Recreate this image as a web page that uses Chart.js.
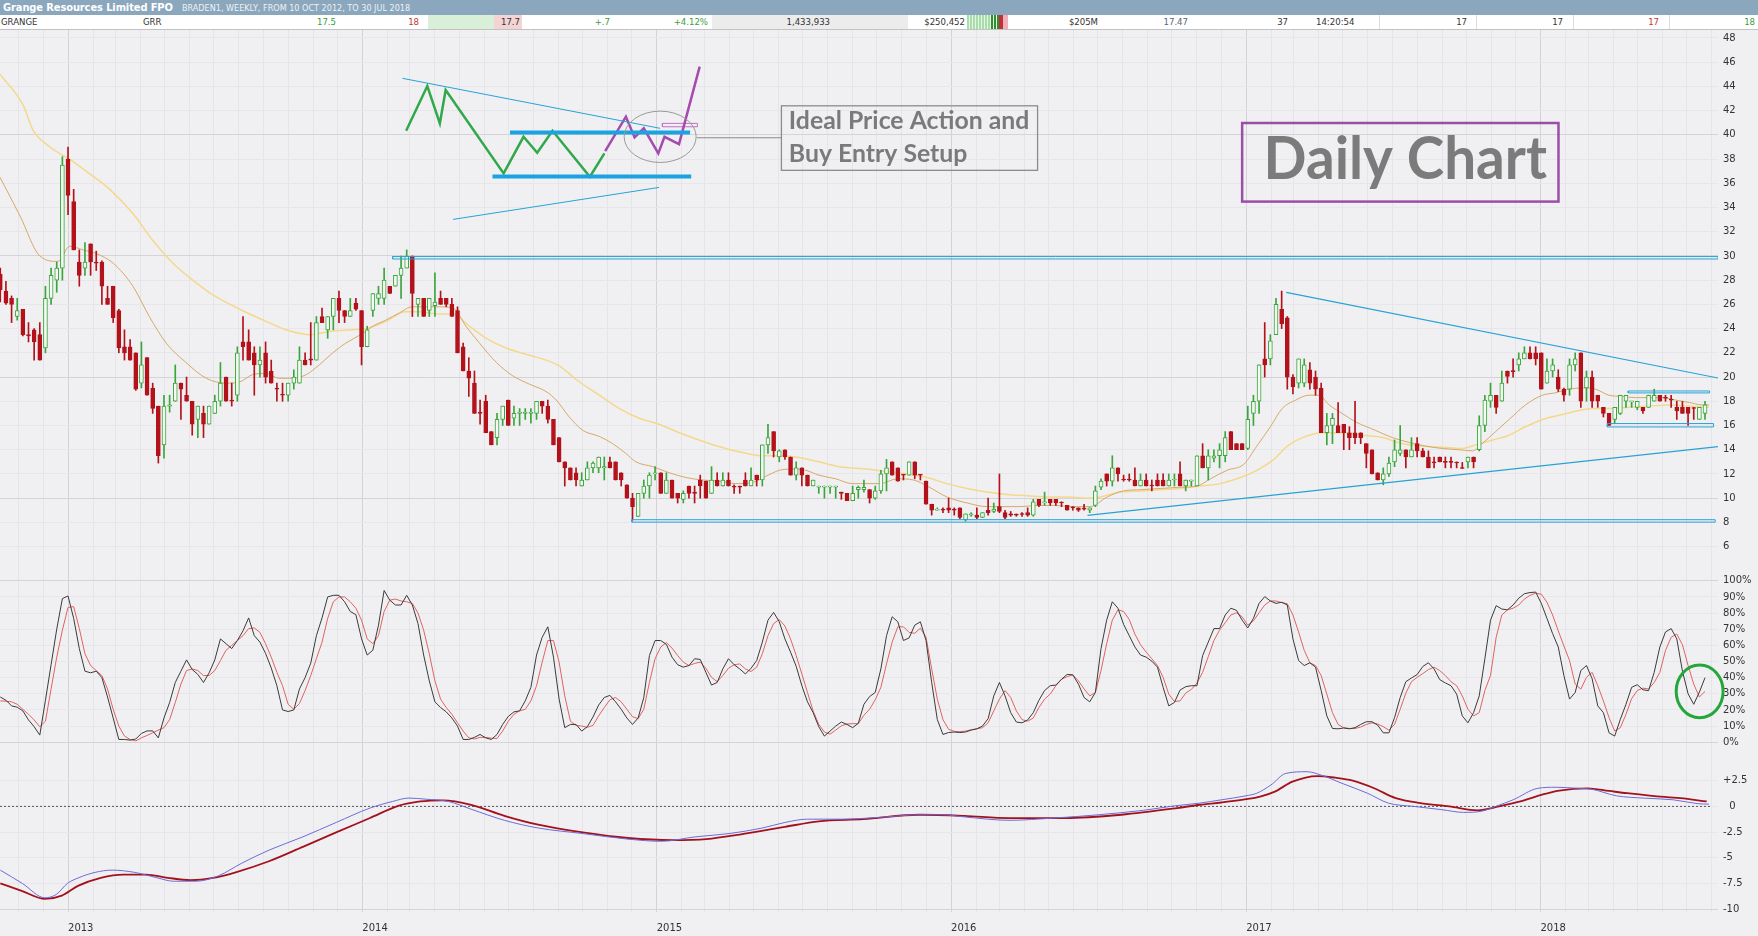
<!DOCTYPE html>
<html lang="en">
<head>
<meta charset="UTF-8" />
<title>Grange Resources Limited FPO - Weekly</title>
<style>
  html, body {
    margin: 0;
    padding: 0;
    width: 1758px;
    height: 936px;
    overflow: hidden;
    background: #f0f0f2;
    font-family: "DejaVu Sans Condensed", "DejaVu Sans", sans-serif;
  }
  .titlebar {
    position: absolute; left: 0; top: 0; width: 1758px; height: 15px;
    background: #8ba7bd; color: #fff;
  }
  .titlebar .name { position: absolute; left: 3px; top: 0; font-weight: bold; font-size: 11px; line-height: 15px; letter-spacing: -0.1px; }
  .titlebar .sub { position: absolute; left: 182px; top: 1px; font-size: 9px; line-height: 15px; color: #eef2f6; }
  .quote {
    position: absolute; left: 0; top: 15px; width: 1758px; height: 14px;
    background: #fff; border-bottom: 1px solid #c2c2c2;
    font-size: 9.5px; line-height: 14px; color: #333;
  }
  .quote span { position: absolute; top: 0; white-space: nowrap; }
  .quote .cell { position: absolute; top: 0; height: 14px; }
  .quote .sep { position: absolute; top: 0; width: 1px; height: 14px; background: #dcdcdc; }
  .up { color: #3c9c3c; }
  .down { color: #c0392b; }
  .panel { position: absolute; left: 0; width: 1758px; }
</style>
</head>
<body>
  <div class="titlebar">
    <span class="name">Grange Resources Limited FPO</span>
    <span class="sub">BRADEN1, WEEKLY, FROM 10 OCT 2012, TO 30 JUL 2018</span>
  </div>
  <div class="quote">
    <div class="cell" style="left:428px;width:66px;background:#d8f0d8"></div>
    <div class="cell" style="left:494px;width:28px;background:#f3d3d3"></div>
    <div class="cell" style="left:712px;width:196px;background:#ececec"></div>
    <div class="cell" style="left:967px;width:24px;background:repeating-linear-gradient(90deg,#a8dca8 0 2px,#e6f5e6 2px 3px)"></div>
    <div class="cell" style="left:991px;width:8px;background:repeating-linear-gradient(90deg,#2f8f2f 0 2px,#e6f5e6 2px 3px)"></div>
    <div class="cell" style="left:999px;width:4px;background:#c0303a"></div>
    <div class="cell" style="left:1003px;width:5px;background:#f0b0b8"></div>
    <div class="sep" style="left:1379px"></div>
    <div class="sep" style="left:1476px"></div>
    <div class="sep" style="left:1573px"></div>
    <div class="sep" style="left:1669px"></div>
    <span style="left:1px">GRANGE</span>
    <span style="left:143px">GRR</span>
    <span class="up" style="right:1422px">17.5</span>
    <span class="down" style="right:1339px">18</span>
    <span style="right:1238px">17.7</span>
    <span class="up" style="right:1148px">+.7</span>
    <span class="up" style="right:1050px">+4.12%</span>
    <span style="right:928px">1,433,933</span>
    <span style="right:793px">$250,452</span>
    <span style="right:660px">$205M</span>
    <span style="right:570px;color:#556677">17.47</span>
    <span style="right:470px">37</span>
    <span style="left:1316px">14:20:54</span>
    <span style="right:291px">17</span>
    <span style="right:195px">17</span>
    <span class="down" style="right:99px">17</span>
    <span class="up" style="right:3px">18</span>
  </div>

  <div class="panel" style="top:30px;height:545px"><canvas id="priceChart"></canvas></div>
  <div class="panel" style="top:575px;height:175px"><canvas id="stochChart"></canvas></div>
  <div class="panel" style="top:750px;height:186px"><canvas id="macdChart"></canvas></div>

<script src="https://cdn.jsdelivr.net/npm/chart.js"></script>
<script>
// ---- data (weekly candles, first one is 12 weeks before 1 Jan 2013) ----
const firstWeek = -12;

const opens = [
  28.5, 27.1, 26.5, 25.0, 25.6, 23.5, 23.9, 23.5, 22.4, 26.5, 28.0, 29.0,
  38.0, 34.5, 29.5, 29.0, 31.0, 29.5, 29.5, 26.5, 27.5, 25.5,
  22.5, 22.5, 22.0, 19.5, 21.6, 19.1, 17.6, 14.4, 17.6, 18.0,
  19.5, 18.5, 18.0, 16.5, 17.0, 16.1, 17.0, 18.0, 20.0, 18.1,
  18.5, 22.9, 22.9, 22.0, 21.0, 22.0, 20.5, 19.1, 18.6, 18.5,
  19.5, 19.5, 21.4, 21.5, 21.4, 25.0, 23.9, 25.0, 26.5, 25.5,
  25.0, 26.1, 25.5, 22.5, 25.5, 26.5, 26.5, 27.5, 27.5, 28.4,
  29.0, 30.0, 26.0, 26.5, 25.5, 25.9, 26.5, 26.5, 26.0, 25.5,
  22.5, 20.5, 19.5, 17.1, 18.0, 15.5, 15.0, 16.5, 18.1, 16.6,
  17.0, 17.0, 17.0, 17.0, 18.0, 17.6, 16.5, 15.0, 13.0, 12.5,
  12.1, 11.0, 11.5, 12.5, 12.5, 12.5, 13.0, 13.0, 12.1, 11.1,
  10.0, 8.5, 10.4, 11.0, 12.0, 12.1, 10.4, 11.5, 10.4, 9.9,
  11.0, 10.5, 11.5, 11.4, 10.4, 11.5, 11.0, 11.5, 11.0, 11.0,
  11.5, 11.0, 11.9, 11.5, 14.4, 15.5, 13.4, 14.0, 13.4, 11.9,
  12.5, 11.9, 11.0, 10.9, 10.9, 10.9, 10.9, 10.5, 10.4, 9.8,
  10.7, 10.7, 10.7, 10.0, 10.6, 12.0, 13.0, 12.5, 11.95, 11.9,
  13.0, 11.95, 11.4, 9.5, 9.0, 9.1, 9.2, 9.1, 9.2, 8.2,
  8.6, 8.6, 8.4, 9.0, 8.9, 9.3, 8.8, 8.7, 8.65, 8.7,
  8.8, 8.6, 9.9, 9.6, 9.9, 9.9, 9.65, 9.4, 9.25, 9.2,
  9.15, 9.0, 9.4, 10.9, 12.0, 11.4, 12.5, 11.55, 11.55, 11.5,
  11.0, 11.5, 11.05, 11.5, 11.5, 11.0, 11.5, 12.0, 11.0, 11.4,
  11.0, 13.5, 12.5, 13.3, 13.5, 13.5, 15.5, 14.5, 14.5, 14.1,
  17.0, 18.0, 21.5, 21.5, 23.5, 25.6, 24.9, 20.0, 19.5, 19.5,
  20.6, 20.0, 19.1, 15.4, 16.0, 16.0, 16.1, 15.4, 15.4, 15.4,
  14.5, 14.0, 12.1, 11.5, 12.0, 13.0, 13.7, 14.0, 13.4, 14.5,
  13.9, 13.4, 13.0, 13.4, 13.0, 13.0, 12.95, 12.5, 13.0, 13.4,
  14.0, 16.0, 18.0, 18.5, 18.0, 20.5, 20.5, 21.0, 21.5, 22.0,
  22.0, 22.0, 19.5, 20.5, 20.0, 19.0, 19.0, 21.0, 22.0, 19.1,
  20.0, 18.5, 17.5, 17.0, 16.5, 17.0, 18.0, 17.95, 17.5, 17.5,
  17.5, 18.0, 18.5, 18.3, 18.15, 17.5, 17.5, 17.5, 17.45, 16.5, 17.0
];
const highs = [
  29.0, 27.9, 26.7, 26.5, 25.6, 24.5, 24.0, 24.5, 27.5, 29.0, 29.5, 38.2,
  39.0, 35.5, 30.5, 31.1, 31.0, 30.4, 29.6, 27.5, 27.5, 25.6,
  23.9, 23.1, 22.0, 22.9, 21.6, 19.5, 17.6, 18.5, 18.5, 21.0,
  19.5, 20.0, 18.0, 17.6, 17.6, 17.6, 18.5, 21.2, 20.0, 19.5,
  22.5, 25.0, 23.9, 22.5, 22.5, 22.9, 21.4, 19.5, 19.5, 19.5,
  20.6, 22.5, 22.0, 24.5, 25.0, 25.7, 25.0, 26.5, 27.1, 25.5,
  26.5, 26.5, 25.5, 24.2, 26.9, 27.5, 29.0, 27.5, 28.4, 30.0,
  30.5, 30.0, 26.5, 26.5, 26.5, 28.6, 27.1, 26.5, 26.5, 25.8,
  22.8, 21.6, 20.5, 18.1, 18.5, 15.5, 17.0, 17.6, 18.1, 17.6,
  17.4, 17.4, 17.4, 18.0, 18.0, 18.1, 16.5, 15.0, 13.0, 12.5,
  12.5, 12.1, 13.0, 13.0, 13.4, 13.4, 13.4, 13.0, 12.1, 11.1,
  10.4, 10.4, 11.5, 12.1, 12.6, 12.1, 12.1, 11.5, 10.4, 10.6,
  11.0, 11.0, 11.9, 11.4, 12.6, 12.1, 12.1, 12.1, 11.1, 11.0,
  12.1, 12.5, 11.9, 14.4, 16.1, 15.5, 14.0, 14.0, 13.4, 13.0,
  12.5, 11.9, 11.5, 11.0, 11.0, 11.0, 11.0, 10.5, 10.4, 11.0,
  11.0, 11.5, 10.7, 11.0, 12.3, 13.2, 13.0, 12.5, 11.95, 13.0,
  13.0, 11.95, 11.4, 9.5, 9.2, 9.2, 10.0, 9.2, 9.2, 8.7,
  8.8, 9.2, 8.8, 10.0, 9.6, 12.0, 9.0, 8.9, 8.7, 8.8,
  9.2, 9.9, 9.9, 10.5, 9.9, 9.9, 9.7, 9.4, 9.3, 9.2,
  9.5, 9.2, 11.0, 11.6, 12.0, 13.5, 12.5, 11.9, 12.0, 12.5,
  12.0, 12.0, 11.5, 12.0, 12.0, 12.0, 12.0, 13.0, 11.5, 11.5,
  13.5, 14.5, 14.0, 14.0, 14.5, 15.5, 15.5, 14.5, 14.5, 17.6,
  18.5, 21.0, 24.5, 23.5, 26.5, 27.1, 25.0, 20.2, 21.5, 21.5,
  21.2, 20.5, 19.5, 17.0, 17.0, 17.9, 16.1, 15.9, 18.0, 15.4,
  14.5, 14.0, 12.1, 12.5, 13.4, 14.8, 16.0, 14.0, 15.0, 15.0,
  14.1, 13.9, 13.4, 13.4, 13.4, 13.4, 13.0, 12.95, 13.4, 13.4,
  16.8, 18.5, 19.5, 18.5, 20.5, 20.5, 21.5, 22.0, 22.5, 22.5,
  22.5, 22.0, 21.5, 21.5, 20.6, 19.1, 21.5, 22.0, 22.0, 20.5,
  20.5, 18.5, 17.5, 17.0, 17.5, 18.5, 18.5, 18.0, 18.0, 17.5,
  18.5, 19.0, 18.5, 18.5, 18.5, 18.0, 18.0, 17.5, 17.5, 17.5, 18.0
];
const lows = [
  26.2, 26.0, 24.5, 24.7, 23.4, 22.9, 21.4, 21.4, 22.0, 26.0, 27.0, 28.0,
  33.4, 30.5, 27.5, 28.4, 28.4, 28.8, 26.0, 26.0, 24.5, 22.0,
  21.4, 21.4, 18.9, 19.1, 18.5, 17.0, 12.9, 13.3, 17.1, 18.0,
  16.5, 18.0, 15.2, 15.0, 15.0, 16.1, 17.0, 17.6, 18.0, 17.6,
  18.0, 21.4, 21.4, 18.5, 20.0, 19.5, 19.5, 18.0, 18.0, 18.0,
  19.0, 19.5, 21.0, 21.0, 21.4, 24.5, 23.2, 23.9, 24.5, 24.5,
  25.0, 25.5, 21.0, 22.5, 25.0, 26.0, 26.0, 26.9, 27.5, 26.5,
  29.0, 25.0, 25.0, 25.0, 25.0, 25.0, 26.0, 25.8, 25.0, 22.0,
  20.5, 18.4, 17.0, 16.1, 15.4, 14.4, 14.4, 16.0, 16.0, 16.0,
  16.0, 16.5, 16.2, 16.5, 17.0, 16.2, 14.4, 13.0, 11.0, 11.5,
  11.0, 11.0, 11.5, 12.1, 12.1, 11.5, 12.5, 11.5, 11.0, 10.0,
  8.2, 8.5, 10.0, 10.0, 11.5, 10.4, 10.4, 10.0, 9.6, 9.6,
  10.0, 9.6, 10.0, 10.0, 10.4, 11.0, 11.0, 11.0, 10.4, 10.4,
  11.0, 11.0, 11.0, 11.0, 13.7, 13.4, 13.0, 13.2, 11.9, 11.5,
  11.0, 11.0, 11.0, 10.4, 10.0, 10.4, 10.0, 9.9, 9.8, 9.8,
  10.0, 10.5, 9.6, 9.9, 10.4, 10.6, 11.9, 11.4, 11.5, 11.9,
  11.6, 11.5, 9.5, 8.6, 9.0, 8.8, 8.8, 8.6, 8.3, 8.1,
  8.5, 8.3, 8.4, 8.6, 8.8, 8.8, 8.3, 8.5, 8.5, 8.5,
  8.5, 8.5, 9.3, 9.4, 9.4, 9.4, 9.3, 9.0, 9.0, 8.9,
  9.0, 8.8, 9.3, 10.7, 11.0, 11.0, 11.4, 11.4, 11.4, 11.0,
  11.0, 11.0, 10.6, 11.0, 11.0, 11.0, 11.0, 11.0, 10.6, 11.0,
  11.0, 12.5, 11.5, 13.0, 12.5, 13.0, 14.0, 14.0, 14.0, 14.0,
  16.0, 17.0, 20.0, 21.0, 23.5, 24.0, 19.0, 18.6, 19.1, 19.2,
  19.0, 18.5, 15.4, 14.4, 14.5, 15.4, 14.0, 14.0, 14.5, 14.5,
  12.5, 12.0, 11.5, 11.1, 11.8, 12.6, 13.5, 12.5, 13.4, 13.4,
  13.4, 12.5, 12.5, 13.0, 12.5, 12.5, 12.5, 12.45, 12.5, 12.5,
  13.9, 15.5, 17.5, 17.0, 18.0, 19.5, 20.0, 20.5, 21.5, 21.5,
  21.0, 19.0, 19.5, 20.0, 18.8, 18.0, 18.5, 20.5, 17.5, 18.0,
  17.5, 17.5, 16.7, 16.0, 16.2, 16.9, 17.5, 17.5, 17.3, 17.0,
  17.5, 18.0, 18.0, 18.0, 17.5, 16.5, 17.0, 16.0, 16.5, 16.5, 16.5
];
const closes = [
  27.2, 26.1, 26.0, 25.5, 23.5, 23.4, 22.9, 21.4, 26.5, 28.4, 29.0, 37.5,
  35.0, 30.5, 28.4, 29.5, 29.5, 29.4, 27.5, 26.0, 24.9, 22.4,
  22.0, 21.4, 19.0, 21.0, 18.5, 17.4, 13.5, 17.6, 17.7, 19.5,
  19.0, 18.0, 16.1, 17.6, 16.1, 17.6, 18.0, 19.5, 18.0, 18.0,
  22.0, 22.5, 21.4, 21.0, 21.4, 20.0, 19.5, 19.0, 18.5, 19.5,
  20.0, 21.4, 21.0, 21.4, 24.5, 24.5, 25.0, 26.5, 25.5, 25.0,
  25.5, 25.6, 22.5, 23.9, 26.9, 26.9, 28.0, 26.9, 28.4, 29.0,
  30.0, 26.9, 26.5, 25.0, 26.5, 26.2, 26.0, 26.0, 25.0, 22.0,
  20.5, 19.9, 17.0, 17.0, 15.4, 14.4, 16.5, 17.6, 16.0, 17.0,
  17.1, 17.1, 17.1, 18.0, 17.6, 16.5, 14.4, 13.0, 12.5, 11.5,
  11.5, 11.5, 12.5, 12.9, 13.4, 12.6, 12.5, 11.5, 11.5, 10.0,
  9.3, 10.4, 11.0, 11.9, 12.1, 10.4, 11.5, 10.0, 10.0, 10.4,
  10.4, 10.4, 11.0, 10.0, 11.5, 11.0, 11.5, 11.0, 10.9, 10.9,
  11.0, 11.5, 11.5, 14.4, 15.0, 13.9, 13.9, 13.4, 11.9, 12.5,
  11.9, 11.0, 11.5, 11.0, 11.0, 11.0, 11.0, 10.4, 9.8, 10.4,
  10.9, 10.9, 10.0, 10.6, 12.0, 12.5, 11.9, 11.4, 11.9, 13.0,
  11.9, 11.9, 9.5, 9.0, 9.1, 9.0, 9.0, 9.0, 8.4, 8.7,
  8.7, 8.4, 8.8, 8.8, 9.1, 8.9, 8.4, 8.6, 8.6, 8.65,
  8.6, 9.7, 9.4, 9.7, 9.6, 9.6, 9.6, 9.0, 9.2, 9.0,
  9.1, 9.2, 10.6, 11.4, 11.4, 12.5, 12.0, 11.5, 11.5, 11.0,
  11.5, 11.0, 11.0, 11.0, 11.0, 11.5, 11.55, 11.0, 11.5, 11.5,
  13.5, 12.5, 13.5, 13.5, 14.0, 15.0, 14.0, 14.0, 14.0, 16.5,
  18.0, 21.0, 21.0, 23.0, 26.0, 24.4, 20.0, 19.2, 21.5, 21.0,
  19.5, 19.0, 15.4, 16.0, 16.6, 15.4, 15.4, 15.0, 15.0, 15.0,
  13.7, 12.0, 11.5, 12.0, 12.9, 14.0, 14.0, 13.4, 14.0, 13.9,
  13.4, 12.5, 12.9, 13.0, 12.95, 12.95, 12.9, 12.45, 13.4, 13.0,
  16.0, 18.1, 18.5, 17.5, 19.5, 20.05, 20.45, 21.5, 22.0, 21.5,
  21.5, 19.0, 20.5, 21.0, 19.0, 18.5, 21.0, 21.5, 18.0, 20.0,
  18.0, 18.0, 17.0, 16.0, 17.5, 18.5, 18.5, 18.0, 18.0, 17.2,
  18.5, 18.5, 18.0, 18.25, 18.1, 17.2, 17.0, 17.0, 17.4, 17.5, 17.7
];

// moving averages at the marked weeks
const maFastWeeks = [-12.05, -8.5, -5, -1.8, 0.3, 2.7, 5, 8, 11.5, 14.4, 17.4, 20.9, 24.5, 28, 30.4, 32.7, 35.1, 37.4, 39.8, 42.2, 44.5, 46.9, 49.2, 52.2, 54, 56.3, 58.7, 61, 63.4, 65.8, 68.2, 70.5, 72.9, 75.9, 78.8, 81.8, 84.7, 86.5, 88.8, 91.2, 94.1, 96.5, 98.8, 100.6, 103.6, 106.5, 109.5, 112.4, 115.4, 118.3, 121.3, 123.6, 126, 128.3, 130.7, 133, 136, 138.9, 140.4, 143.9, 146.9, 149.8, 152.2, 155.7, 159.3, 162.8, 165.8, 168.7, 171.7, 174.6, 178.2, 181.1, 184.1, 187, 190, 193.5, 197, 200, 202.4, 205.3, 208.3, 210.6, 213, 215.1, 217.5, 219.8, 221.6, 223.4, 225.7, 228.1, 231.6, 234.6, 237.6, 240.5, 243.5, 246.4, 248.8, 250.5, 252.9, 255.3, 258.2, 261.2, 263.5, 265.9, 268.3, 270.6, 273, 275.3, 277.7, 280.1, 282.4, 284.8, 287.2, 289.5, 290.7];
const maFastValues = [36.5, 33.3, 30.0, 29.55, 30.8, 30.5, 30.2, 29.4, 27.5, 25.0, 22.8, 21.2, 19.9, 19.5, 19.6, 20.2, 20.3, 19.9, 19.9, 20.2, 21.0, 22.0, 22.8, 23.6, 24.2, 24.7, 25.3, 25.8, 25.8, 25.8, 25.7, 24.2, 22.8, 21.2, 20.1, 19.4, 18.8, 18.1, 16.7, 15.6, 15.1, 14.5, 13.7, 13.0, 12.6, 12.1, 11.7, 11.5, 11.4, 11.2, 11.3, 11.8, 12.3, 12.4, 12.3, 11.9, 11.6, 11.2, 11.2, 11.2, 11.6, 11.5, 11.0, 10.1, 9.6, 9.3, 9.3, 9.3, 9.4, 9.4, 9.3, 9.3, 10.1, 10.6, 10.7, 10.8, 10.9, 11.0, 11.6, 12.3, 12.8, 14.3, 15.9, 17.4, 18.1, 18.5, 18.5, 17.7, 17.0, 16.3, 15.6, 15.0, 14.6, 14.3, 14.1, 14.0, 13.9, 14.5, 15.5, 16.5, 17.7, 18.5, 18.7, 19.0, 19.1, 19.0, 18.5, 18.4, 18.3, 18.3, 18.3, 18.1, 17.9, 17.7, 17.7];
const maSlowWeeks = [-12.05, -8, -6.2, -3.2, -0.9, 0.9, 3.8, 7.4, 11.5, 15, 18.6, 22.1, 25.6, 30.4, 35.1, 38.6, 42.7, 46.9, 50.4, 52.8, 56.3, 59.8, 62.2, 65.8, 68.2, 71.1, 74.1, 77.6, 81.8, 84.7, 87.1, 90, 93.5, 97.7, 101.2, 104.7, 108.3, 112.4, 116.5, 120.1, 123, 126, 128.9, 133, 136.6, 141.5, 145.1, 148.6, 152.2, 155.7, 159.3, 162.8, 166.3, 169.9, 173.4, 177, 180.5, 182.9, 186.4, 190, 193.5, 197, 200.6, 204.1, 207.7, 210.6, 213.6, 216, 218.7, 222.2, 225.7, 229.3, 232.8, 236.4, 239.9, 243.5, 247, 249.4, 252.4, 255.3, 258.2, 261.2, 264.7, 268.3, 270.6, 273, 276.5, 280.1, 283.6, 287.2, 290.7];
const maSlowValues = [45.0, 42.5, 40.4, 39.0, 38.3, 37.8, 36.8, 35.5, 33.5, 31.3, 29.4, 28.0, 26.8, 25.6, 24.6, 23.9, 23.5, 23.8, 23.9, 24.0, 24.6, 25.4, 25.4, 25.2, 25.2, 24.2, 23.2, 22.4, 21.8, 21.4, 20.9, 19.8, 18.7, 17.4, 16.6, 16.1, 15.4, 14.7, 14.1, 13.7, 13.5, 13.5, 13.4, 13.0, 12.6, 12.4, 12.2, 12.0, 11.7, 11.2, 10.8, 10.5, 10.3, 10.2, 10.1, 10.1, 10.0, 10.1, 10.5, 10.6, 10.7, 10.8, 11.0, 11.2, 11.7, 12.3, 13.2, 14.3, 15.0, 15.4, 15.4, 15.2, 15.0, 14.5, 14.3, 14.2, 14.1, 14.4, 14.8, 15.2, 15.9, 16.5, 16.9, 17.3, 17.4, 17.4, 17.5, 17.6, 17.7, 17.6, 17.5];

// stochastic, one value per candle
const stochK = [
  28, 26, 22.5, 21.7, 19.4, 13.8, 9.6, 4.4, 26, 48, 70, 89,
  90.6, 76.7, 58, 44, 43, 44, 40, 28, 15, 1.7,
  1.7, 1.3, 2, 5.4, 7, 7, 2.7, 15, 24.6, 37,
  44, 51, 45, 42, 37, 43, 51, 64, 61, 58,
  63, 69, 77, 66, 62, 55, 46, 35, 20, 19,
  20, 33, 40, 49, 66, 77, 90, 91, 91, 87,
  81, 79, 64, 54, 57, 72.5, 94, 88, 85, 85,
  91, 85, 73.5, 54, 38, 25, 21.5, 18.8, 15, 10,
  1.7, 1.7, 3, 4.8, 2.7, 1.7, 4.8, 11, 16, 18.8,
  19.4, 25.6, 34, 54, 65, 71.5, 52.7, 26.7, 9, 11,
  11, 6.9, 9.6, 15.6, 23, 27.7, 29, 25, 20.4, 15,
  11, 15, 27.7, 53.7, 63, 63, 60.6, 52.7, 48, 46.5,
  47.5, 51.7, 51.3, 43.3, 35.4, 37, 45.4, 51.7, 48, 45.4,
  42.3, 45.8, 50.6, 62, 75.6, 80.4, 74.6, 64, 55.8, 47,
  35, 25, 18.3, 9.6, 3.8, 6.9, 10, 12.5, 11, 9,
  11.7, 23.5, 28.3, 30.8, 45.4, 66, 77.7, 74.6, 63, 64.6,
  72.5, 74.6, 63, 37, 14, 4.8, 6, 6.3, 6, 6.3,
  7.5, 8.3, 10, 14.6, 28.7, 37, 28.7, 18.3, 12.5, 12,
  13.8, 18.3, 26, 32, 35, 35.4, 39, 42, 41.7, 36,
  27.7, 25, 30.8, 58, 75.6, 87, 83, 73, 66, 59,
  54, 52.7, 50.2, 46.5, 34, 22.5, 24.6, 32.3, 34.4, 35,
  35, 53.7, 62, 70.4, 70.4, 78.8, 83, 81.7, 75.6, 70.8,
  76.7, 86, 90.2, 87.5, 86, 86.7, 85, 64, 50.6, 47.5,
  49.2, 46.5, 32, 16.3, 8.5, 8.3, 8.8, 8.3, 9, 11,
  12.7, 12.7, 10.6, 5.8, 5.8, 15.2, 27.7, 37.5, 39.8, 41.9,
  46.9, 49.2, 45.4, 38.8, 36.7, 35, 29.8, 16.3, 12, 18.3,
  28.7, 51.7, 75.6, 84.6, 82.5, 82, 85, 89.2, 92, 92.7,
  93, 86, 76.7, 67.3, 59, 41.3, 26.7, 30.8, 44.4, 47.5,
  39.4, 22.5, 18.3, 5.8, 3.8, 14.2, 23.5, 34, 35.6, 32.5,
  31.9, 43.3, 59, 68.3, 70.4, 64, 44, 30, 23.5, 31, 40
];
const stochD = [
  25.6, 25.4, 25, 23.5, 20.4, 17.3, 13.8, 9.6, 13, 33, 52.7, 69.4,
  83.5, 84, 70.4, 54.8, 47.5, 44.4, 41.3, 33, 20.4, 10,
  3.8, 1.7, 0.8, 2.7, 4.2, 5.8, 7.5, 9, 14, 24.6,
  36, 44.4, 45.4, 44.4, 41.3, 41.3, 44.4, 50.6, 57, 60,
  63, 66, 70.4, 70.8, 68, 61, 52.7, 43.3, 35, 23.5,
  20.4, 24, 32, 41.3, 51.7, 62, 76.7, 87, 90, 90,
  87, 83, 75.6, 64, 61, 66, 81, 88, 88.7, 87.5,
  87, 86, 80, 69.4, 54.8, 38, 26.7, 21.5, 17.3, 12,
  6.9, 2.7, 2, 3, 2.9, 2.5, 2.3, 6.9, 13, 17.3,
  19.4, 20.4, 25.6, 35, 49.6, 63, 63, 49.6, 28.7, 13,
  10.4, 10, 9.2, 10.4, 16.3, 21.5, 26.3, 27.7, 25, 20.4,
  15.8, 14.6, 20.4, 37, 51.7, 59, 61.7, 58.3, 53.7, 49.6,
  47.5, 48.8, 49.6, 45.8, 40.2, 37.5, 41.3, 45.8, 48, 48.5,
  45.4, 43.8, 46.5, 54.8, 66, 73.5, 76, 72, 64, 53.7,
  42.3, 30.8, 19.4, 11, 6.3, 5, 7.5, 10.2, 11.3, 11.5,
  11.5, 16.7, 20.4, 26.3, 34, 48.5, 62, 71.5, 71.5, 68,
  67.5, 70.6, 65, 45.4, 26.7, 14, 8, 6.7, 6.5, 6.9,
  7.7, 8.3, 9, 12, 19.4, 26.7, 32, 27.7, 19.4, 14,
  13, 15, 21.5, 26.7, 29.8, 35, 39, 40.6, 41.7, 38,
  33, 28.7, 30.8, 44.4, 61, 75.6, 82, 81, 76, 67,
  60.4, 55.8, 51.7, 47.5, 40.2, 29.8, 25.2, 25.6, 30.4, 32.7,
  36.7, 43.3, 53, 63, 69.4, 74, 78.8, 80.2, 77.7, 72.5,
  75.2, 80.2, 85, 87.5, 87.5, 86.5, 85.8, 78.8, 68.3, 56.9,
  49.2, 47.5, 41.3, 29.8, 18.3, 11, 9, 8.5, 8.5, 9.4,
  11, 12, 11.3, 9.6, 7.5, 11, 20.4, 30.4, 37.5, 40.2,
  42.5, 45, 46.5, 44.4, 41.3, 37.5, 35, 28.7, 20.4, 16.3,
  18.3, 32, 41.3, 65, 78.8, 82, 83, 85, 88.7, 91,
  92.3, 91.7, 86.7, 78.8, 69, 59.6, 50.6, 36, 32.9, 40.2,
  43.3, 35, 25.6, 15.2, 6.9, 9, 17.3, 27, 32, 33.5,
  33, 37, 43.3, 56.9, 65, 67, 60.4, 47.5, 36, 28, 31.5
];

// MACD and signal at the marked weeks
const macdWeeks = [-12, -8.1, -4.1, -2.1, -0.1, 1.85, 4.8, 7.8, 11.8, 15.8, 18.7, 22.7, 26.7, 30.7, 35.6, 41.6, 47.5, 53.5, 57.5, 60.4, 63.4, 67.4, 71.4, 77.3, 83.3, 91.2, 99.2, 105.1, 111.1, 117.1, 123, 127, 131, 137, 144.9, 150.8, 154.8, 158.8, 166.7, 174.7, 182.6, 190.5, 196, 200.5, 204.3, 208.7, 210.6, 213.1, 215.7, 219.5, 222, 225.7, 230.2, 233.9, 238.4, 243.4, 247.2, 250.3, 252.9, 256, 260.4, 263.6, 267.4, 269.9, 274.3, 279.3, 284.4, 288.8, 290.7];
const macdValues = [-6.19, -7.48, -8.88, -8.56, -7.48, -6.94, -6.41, -6.19, -6.41, -6.94, -7.27, -7.27, -6.73, -5.54, -4.25, -2.96, -1.56, -0.16, 0.48, 0.81, 0.7, 0.48, -0.27, -1.35, -2.1, -2.64, -3.18, -3.39, -2.96, -2.64, -2.1, -1.56, -1.24, -1.24, -1.02, -0.81, -0.81, -1.02, -1.35, -1.13, -0.81, -0.38, 0.05, 0.32, 0.64, 1.03, 1.28, 2.08, 3.2, 3.37, 3.04, 2.24, 1.28, 0.32, 0, -0.32, -0.58, -0.48, 0, 0.64, 1.76, 1.86, 1.76, 1.67, 1.03, 0.8, 0.64, 0.26, 0.22];
const signalWeeks = [-12, -8.1, -4.1, -1.1, 1.85, 5.8, 9.8, 13.8, 17.7, 21.7, 25.7, 29.7, 35.6, 41.6, 47.5, 53.5, 58.5, 62.4, 66.4, 71.4, 77.3, 83.3, 91.2, 99.2, 107.1, 113.1, 119, 127, 133, 140.9, 150.8, 158.8, 166.7, 176.6, 186.6, 196.5, 200.5, 204.3, 208.7, 211.2, 213.8, 216.9, 221.3, 224.5, 227.6, 231.4, 235.2, 239.6, 244.7, 249.7, 253.5, 257.3, 261, 264.2, 269.2, 273, 276.2, 280.6, 285.6, 290.3];
const signalValues = [-7.48, -8.23, -8.99, -8.67, -7.7, -6.94, -6.62, -6.62, -6.94, -7.16, -6.94, -6.4, -5.33, -3.93, -2.53, -1.13, 0.05, 0.48, 0.59, 0.16, -0.92, -1.78, -2.53, -3.07, -3.28, -3.18, -2.74, -1.99, -1.45, -1.24, -0.81, -0.92, -1.13, -1.13, -0.81, -0.16, 0.16, 0.38, 0.7, 0.96, 1.44, 2.4, 2.95, 2.79, 2.5, 1.76, 0.8, 0.32, 0, -0.38, 0, 0.48, 1.12, 1.54, 1.76, 1.5, 1.28, 1.03, 0.8, 0.48];

// drawn lines on the price panel: [week, price] pairs
const resistance30 = [[57.5, 29.75], [292.3, 29.75], [292.3, 29.95], [57.5, 29.95], [57.5, 29.75]];
const support8 = [[99.9, 8.02], [291.8, 8.02], [291.8, 8.22], [99.9, 8.22], [99.9, 8.02]];
const rangeTop = [[276.4, 18.69], [290.8, 18.69], [290.8, 18.85], [276.4, 18.85], [276.4, 18.69]];
const rangeBottom = [[272.7, 15.88], [291.5, 15.88], [291.5, 16.16], [272.7, 16.16], [272.7, 15.88]];
const fallingTrend = [[215.8, 26.99], [292.3, 19.92]];
const risingTrend = [[180.6, 8.57], [292.3, 14.26]];

// "ideal price action" sketch
const sketchUpper = [[59.25, 44.67], [104.9, 40.54]];
const sketchLower = [[68.2, 33.02], [104.7, 35.66]];
const sketchTopBar = [[78.3, 40.2], [110.2, 40.2]];
const sketchBottomBar = [[75.2, 36.57], [110.4, 36.57]];
const sketchGreenWeeks = [59.9, 63.65, 65.87, 66.9, 77.17, 80.69, 83.12, 85.83, 92.45, 95.02];
const sketchGreenPrices = [40.34, 44.03, 40.95, 43.7, 36.82, 39.84, 38.52, 40.34, 36.54, 38.47];
const sketchPurpleWeeks = [95.16, 98.83, 100.37, 102, 104.57, 105.67, 108.24, 111.9];
const sketchPurplePrices = [38.66, 41.5, 39.79, 40.54, 38.47, 39.84, 39.24, 45.63];
const sketchEntryBox = [[105.3, 40.67], [111.5, 40.67], [111.5, 40.95], [105.3, 40.95], [105.3, 40.67]];
const sketchConnector = [[111.4, 39.76], [126.4, 39.76]];

// axis ticks
const priceTicks = [6, 8, 10, 12, 14, 16, 18, 20, 22, 24, 26, 28, 30, 32, 34, 36, 38, 40, 42, 44, 46, 48];
const stochTicks = [0, 10, 20, 30, 40, 50, 60, 70, 80, 90, 100];
const macdTicks = [2.5, 0, -2.5, -5, -7.5, -10];
const macdTickLabels = ['+2.5', '  0', '-2.5', '-5', '-7.5', '-10'];
const yearLabels = ['2012', '2013', '2014', '2015', '2016', '2017', '2018'];

// ---- chart setup ----
const X_MIN = -12.05, X_MAX = 292.3;
const AXIS_FONT = { family: '"DejaVu Sans", Verdana, sans-serif', size: 10 };
const AXIS_COLOR = '#333';
const UP = '#3aa53a', UP_FILL = '#f3f9f3', DOWN = '#b3121b';
const CYAN = '#27a2d6';

const n = Math.min(opens.length, highs.length, lows.length, closes.length);
const weeks = Array.from({ length: n }, (_, i) => firstWeek + i);
const isUp = i => closes[i] >= opens[i];

// month grid lines, with the year written at each January
const origin = Date.UTC(2013, 0, 1);
const monthTicks = [];
yearLabels.forEach(year => {
  for (let m = 0; m < 12; m++) {
    const w = (Date.UTC(+year, m, 1) - origin) / (7 * 864e5);
    if (w > X_MIN && w < X_MAX) monthTicks.push({ value: w, label: m === 0 ? year : '' });
  }
});
const monthAt = v => monthTicks.find(m => Math.abs(m.value - v) < 1e-6);

function xAxis(showLabels) {
  return {
    type: 'linear',
    min: X_MIN,
    max: X_MAX,
    offset: false,
    afterBuildTicks: s => { s.ticks = monthTicks.map(t => ({ value: t.value })); },
    afterFit: s => { s.height = showLabels ? 24 : 0; s.paddingLeft = 0; s.paddingRight = 0; },
    border: { display: false },
    grid: {
      offset: false,
      drawTicks: false,
      color: ctx => {
        const t = ctx.tick ? monthAt(ctx.tick.value) : null;
        return t && t.label ? '#d2d2d7' : '#e5e5e9';
      }
    },
    ticks: {
      display: showLabels,
      autoSkip: false,
      maxRotation: 0,
      align: 'start',
      padding: 10,
      font: AXIS_FONT,
      color: AXIS_COLOR,
      callback: v => {
        const t = monthAt(v);
        return t ? t.label : '';
      }
    }
  };
}

function yAxis(min, max, tickValues, label, major) {
  return {
    position: 'right',
    min, max,
    afterBuildTicks: s => { s.ticks = tickValues.map(v => ({ value: v })); },
    afterFit: s => { s.width = 40; s.paddingTop = 0; s.paddingBottom = 0; },
    border: { display: false },
    grid: { drawTicks: false, color: ctx => ctx.tick && major(ctx.tick.value) ? '#d3d3d8' : '#e7e7eb' },
    ticks: { padding: 5, font: AXIS_FONT, color: AXIS_COLOR, autoSkip: false, callback: label }
  };
}

const pts = pairs => pairs.map(([x, y]) => ({ x, y }));
const zip = (xs, ys) => xs.map((x, i) => ({ x, y: ys[i] }));
const lineSet = (data, color, width, order, extra) => Object.assign({
  type: 'line', data, borderColor: color, borderWidth: width, pointRadius: 0,
  fill: false, tension: 0, order
}, extra || {});

function notes(draw) {
  return {
    id: 'notes',
    afterDatasetsDraw(chart) {
      const ctx = chart.ctx;
      ctx.save();
      draw(ctx, chart.scales.x, chart.scales.y);
      ctx.restore();
    }
  };
}

function fitText(ctx, lines, font, x, widthPx, baselines, color) {
  ctx.font = font;
  const scale = widthPx / ctx.measureText(lines[0]).width;
  ctx.fillStyle = color;
  ctx.textBaseline = 'alphabetic';
  ctx.textAlign = 'left';
  lines.forEach((line, i) => {
    ctx.save();
    ctx.translate(x, baselines[i]);
    ctx.scale(scale, 1);
    ctx.fillText(line, 0, 0);
    ctx.restore();
  });
}

const common = {
  responsive: true,
  maintainAspectRatio: false,
  animation: false,
  layout: { padding: 0 },
  plugins: { legend: { display: false }, tooltip: { enabled: false } },
  events: []
};

// ---- price panel ----
new Chart(document.getElementById('priceChart'), {
  type: 'bar',
  data: {
    datasets: [
      lineSet(zip(maSlowWeeks, maSlowValues), '#f4d88c', 1.5, 6, { cubicInterpolationMode: 'monotone' }),
      lineSet(zip(maFastWeeks, maFastValues), '#d6a868', 1, 5, { cubicInterpolationMode: 'monotone' }),
      {
        type: 'bar', order: 4, grouped: false, barThickness: 1,
        data: weeks.map((w, i) => ({ x: w, y: [lows[i], highs[i]] })),
        backgroundColor: ctx => isUp(ctx.dataIndex) ? UP : DOWN,
        borderWidth: 0
      },
      {
        type: 'bar', order: 3, grouped: false, barThickness: 4, minBarLength: 1,
        data: weeks.map((w, i) => ({ x: w, y: [opens[i], closes[i]] })),
        backgroundColor: ctx => isUp(ctx.dataIndex) ? UP_FILL : DOWN,
        borderColor: ctx => isUp(ctx.dataIndex) ? UP : DOWN,
        borderWidth: 1, borderSkipped: false
      },
      lineSet(pts(resistance30), CYAN, 1, 2),
      lineSet(pts(support8), CYAN, 1, 2),
      lineSet(pts(rangeTop), CYAN, 1, 2),
      lineSet(pts(rangeBottom), CYAN, 1, 2),
      lineSet(pts(fallingTrend), CYAN, 1.2, 2),
      lineSet(pts(risingTrend), CYAN, 1.2, 2),
      lineSet(pts(sketchUpper), CYAN, 1, 1),
      lineSet(pts(sketchLower), CYAN, 1, 1),
      lineSet(pts(sketchTopBar), '#1aa3e0', 4, 1),
      lineSet(pts(sketchBottomBar), '#1aa3e0', 4, 1),
      lineSet(zip(sketchGreenWeeks, sketchGreenPrices), '#31a84a', 2.5, 1),
      lineSet(zip(sketchPurpleWeeks, sketchPurplePrices), '#a54aae', 2.5, 1),
      lineSet(pts(sketchEntryBox), '#c46cc4', 1, 1),
      lineSet(pts(sketchConnector), '#8a8a8a', 1, 1)
    ]
  },
  options: Object.assign({}, common, {
    scales: {
      x: xAxis(false),
      y: yAxis(3.654, 48.66, priceTicks, v => String(v), v => v % 10 === 0)
    }
  }),
  plugins: [notes((ctx, x, y) => {
    // circle round the breakout
    const cx = x.getPixelForValue(104.9), cy = y.getPixelForValue(39.84);
    const rx = x.getPixelForValue(104.9 + 6.38) - cx;
    const ry = y.getPixelForValue(39.84 - 2.12) - cy;
    ctx.beginPath();
    ctx.ellipse(cx, cy, rx, ry, 0, 0, Math.PI * 2);
    ctx.strokeStyle = '#9a9a9a';
    ctx.lineWidth = 1;
    ctx.stroke();

    // label box
    const bx0 = x.getPixelForValue(126.38), bx1 = x.getPixelForValue(171.76);
    const by0 = y.getPixelForValue(42.4), by1 = y.getPixelForValue(37.07);
    ctx.strokeStyle = '#8c8c8c';
    ctx.lineWidth = 1.3;
    ctx.strokeRect(bx0, by0, bx1 - bx0, by1 - by0);
    fitText(ctx, ['Ideal Price Action and', 'Buy Entry Setup'], 'bold 24px Lato, "Open Sans", sans-serif',
      x.getPixelForValue(127.7), x.getPixelForValue(170.3) - x.getPixelForValue(127.7),
      [y.getPixelForValue(40.48), y.getPixelForValue(37.73)], '#7a7a7a');

    // "Daily Chart" box
    const dx0 = x.getPixelForValue(208.0), dx1 = x.getPixelForValue(264.04);
    const dy0 = y.getPixelForValue(40.98), dy1 = y.getPixelForValue(34.49);
    ctx.strokeStyle = '#9b4ea8';
    ctx.lineWidth = 2.5;
    ctx.strokeRect(dx0, dy0, dx1 - dx0, dy1 - dy0);
    fitText(ctx, ['Daily Chart'], 'bold 60px Lato, "Open Sans", sans-serif',
      x.getPixelForValue(211.8), x.getPixelForValue(262.0) - x.getPixelForValue(211.8),
      [y.getPixelForValue(36.34)], '#7b7b7b');
  })]
});

// ---- stochastic panel ----
new Chart(document.getElementById('stochChart'), {
  type: 'line',
  data: {
    datasets: [
      lineSet(zip(weeks, stochD), '#e06262', 1, 2),
      lineSet(zip(weeks, stochK), '#3a3a3a', 1, 1)
    ]
  },
  options: Object.assign({}, common, {
    scales: {
      x: xAxis(false),
      y: yAxis(-4.83, 103.59, stochTicks, v => v + '%', v => v === 0 || v === 100)
    }
  }),
  plugins: [notes((ctx, x, y) => {
    const cx = x.getPixelForValue(289.05), cy = y.getPixelForValue(31.5);
    const rx = x.getPixelForValue(289.05 + 4.16) - cx;
    const ry = y.getPixelForValue(31.5 - 16.4) - cy;
    ctx.beginPath();
    ctx.ellipse(cx, cy, rx, ry, 0, 0, Math.PI * 2);
    ctx.strokeStyle = '#25a63c';
    ctx.lineWidth = 3;
    ctx.stroke();
  })]
});

// ---- MACD panel ----
new Chart(document.getElementById('macdChart'), {
  type: 'line',
  data: {
    datasets: [
      lineSet([{ x: X_MIN, y: 0 }, { x: 290.9, y: 0 }], '#555', 1, 3, { borderDash: [2, 2] }),
      lineSet(zip(signalWeeks, signalValues), '#a3111c', 1.8, 2, { cubicInterpolationMode: 'monotone' }),
      lineSet(zip(macdWeeks, macdValues), '#6b6bd8', 1, 1, { cubicInterpolationMode: 'monotone' })
    ]
  },
  options: Object.assign({}, common, {
    scales: {
      x: xAxis(true),
      y: yAxis(-10.26, 5.48, macdTicks, v => macdTickLabels[macdTicks.indexOf(v)] || '', v => v === -10)
    }
  })
});
</script>
</body>
</html>
